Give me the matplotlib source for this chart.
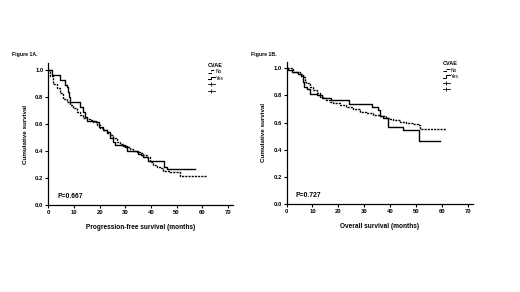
import matplotlib
matplotlib.use("Agg")
import matplotlib.pyplot as plt
from matplotlib.lines import Line2D
from matplotlib.legend_handler import HandlerBase

plt.rcParams["font.family"] = ["Liberation Sans", "DejaVu Sans"]

# Panel A: progression-free survival (step times in months, survival after step)
pfs_no_t = [0, 0.7, 2.0, 3.3, 4.5, 5.9, 7.2, 8.5, 9.8, 11.0, 12.4, 13.7, 15.0, 16.3, 17.6,
            18.9, 20.2, 21.5, 22.8, 24.0, 25.4, 26.7, 28.0, 29.3, 30.6, 31.9, 33.2, 34.5,
            35.8, 37.0, 38.4, 39.7, 41.0, 42.3, 43.6, 44.9, 46.2, 47.5, 51.4, 61.8]
pfs_no_s = [1.0, 0.96, 0.90, 0.865, 0.83, 0.79, 0.766, 0.74, 0.717, 0.69, 0.667, 0.648, 0.635,
            0.63, 0.618, 0.594, 0.569, 0.557, 0.537, 0.52, 0.495, 0.47, 0.453, 0.438, 0.43,
            0.414, 0.404, 0.397, 0.384, 0.372, 0.355, 0.32, 0.298, 0.286, 0.273, 0.256, 0.25,
            0.244, 0.217, 0.217]
pfs_yes_t = [0, 1.3, 4.5, 6.5, 7.2, 7.8, 8.2, 8.5, 12.4, 13.4, 14.3, 15.0, 18.5, 19.8, 21.5,
             22.8, 24.0, 25.4, 26.0, 30.0, 30.6, 35.0, 36.0, 37.0, 39.0, 45.0, 46.2, 57.2]
pfs_yes_s = [1.0, 0.963, 0.926, 0.89, 0.877, 0.84, 0.80, 0.766, 0.73, 0.69, 0.655, 0.625,
             0.615, 0.58, 0.557, 0.544, 0.495, 0.47, 0.446, 0.433, 0.40, 0.38, 0.37, 0.36,
             0.33, 0.28, 0.265, 0.265]

# Panel B: overall survival
os_no_t = [0, 2.6, 5.1, 6.4, 7.1, 7.7, 9.0, 10.3, 11.6, 12.8, 14.1, 15.4, 16.7, 18.0, 20.5,
           23.1, 25.7, 28.3, 30.8, 33.4, 36.0, 38.5, 39.8, 41.1, 43.7, 46.2, 48.8, 50.7,
           51.4, 61.7]
os_no_s = [1.0, 0.975, 0.958, 0.94, 0.90, 0.889, 0.865, 0.84, 0.815, 0.79, 0.778, 0.766,
           0.754, 0.746, 0.729, 0.712, 0.697, 0.68, 0.667, 0.655, 0.648, 0.635, 0.623, 0.618,
           0.606, 0.60, 0.589, 0.58, 0.552, 0.552]
os_yes_t = [0, 0.6, 2.0, 4.5, 5.5, 6.2, 6.6, 8.0, 9.2, 11.7, 13.6, 17.0, 24.0, 32.8, 35.3,
            36.0, 37.3, 39.2, 45.0, 51.1, 59.1]
os_yes_s = [1.0, 0.99, 0.975, 0.96, 0.945, 0.90, 0.862, 0.845, 0.81, 0.80, 0.785, 0.77, 0.74,
            0.717, 0.69, 0.65, 0.63, 0.57, 0.544, 0.463, 0.463]

panels = [
    ("Figure 1A.", "Progression-free survival (months)", "P=0.667",
     pfs_no_t, pfs_no_s, pfs_yes_t, pfs_yes_s),
    ("Figure 1B.", "Overall survival (months)", "P=0.727",
     os_no_t, os_no_s, os_yes_t, os_yes_s),
]


class StepHandler(HandlerBase):
    def create_artists(self, legend, orig_handle, xdescent, ydescent, width, height,
                       fontsize, trans):
        x0, y0 = -xdescent, -ydescent
        xs = [x0, x0 + width * 0.45, x0 + width * 0.45, x0 + width]
        ys = [y0 + height * 0.1, y0 + height * 0.1, y0 + height * 0.9, y0 + height * 0.9]
        ln = Line2D(xs, ys, color="black", lw=orig_handle.get_linewidth() * 0.7,
                    linestyle=orig_handle.get_linestyle(), transform=trans)
        return [ln]


fig = plt.figure(figsize=(5.2, 2.92), dpi=100)
axes_pos = [[0.0929, 0.297, 0.355, 0.486], [0.551, 0.302, 0.359, 0.487]]
title_x = [0.023, 0.483]
leg_anchor = [(0.400, 0.785), (0.852, 0.790)]
ylab_x = [-0.11, -0.108]

for i, (ttl, xlab, ptxt, nt, ns, yt, ys) in enumerate(panels):
    ax = fig.add_axes(axes_pos[i])
    h_no, = ax.step(nt, ns, where="post", color="black", lw=1.0, linestyle=(0, (1.5, 0.8)))
    h_yes, = ax.step(yt, ys, where="post", color="black", lw=1.0)
    ax.set_xlim(0, 72)
    ax.set_ylim(0, 1.05)
    ax.set_xticks(range(0, 71, 10))
    ax.set_yticks([0.0, 0.2, 0.4, 0.6, 0.8, 1.0])
    ax.set_yticklabels(["0.0", "0.2", "0.4", "0.6", "0.8", "1.0"])
    for s in ["top", "right"]:
        ax.spines[s].set_visible(False)
    for s in ["left", "bottom"]:
        ax.spines[s].set_linewidth(0.9)
    ax.tick_params(direction="out", length=2.2, width=0.8, labelsize=4.2, pad=1.3)
    for lbl in ax.get_xticklabels() + ax.get_yticklabels():
        lbl.set_fontweight("bold")
    ax.set_xlabel(xlab, fontsize=4.7, fontweight="bold")
    ax.set_ylabel("Cumulative survival", fontsize=4.5, fontweight="bold")
    ax.yaxis.set_label_coords(ylab_x[i], 0.5)
    ax.xaxis.set_label_coords(0.5, -0.135)
    ax.text(3.5, 0.062, ptxt, fontsize=4.9, fontweight="bold", va="center", ha="left")
    fig.text(title_x[i], 0.812, ttl, fontsize=3.7, fontweight="bold", va="center")

    cens1 = Line2D([], [], color="black", lw=0.6, marker="|", markersize=3.5, mew=0.6)
    cens2 = Line2D([], [], color="black", lw=0.6, marker="|", markersize=3.5, mew=0.6)
    leg = fig.legend([h_no, h_yes, cens1, cens2], ["No", "Yes", "", ""],
                     loc="upper left", bbox_to_anchor=leg_anchor[i],
                     bbox_transform=fig.transFigure, frameon=False,
                     fontsize=3.5, title="CVAE",
                     title_fontproperties={"size": 4.0, "weight": "bold"},
                     handlelength=1.4, handletextpad=0.15, labelspacing=0.3,
                     borderpad=0, borderaxespad=0,
                     handler_map={h_no: StepHandler(), h_yes: StepHandler()},
                     alignment="left")

fig.savefig("out.png", dpi=100)
